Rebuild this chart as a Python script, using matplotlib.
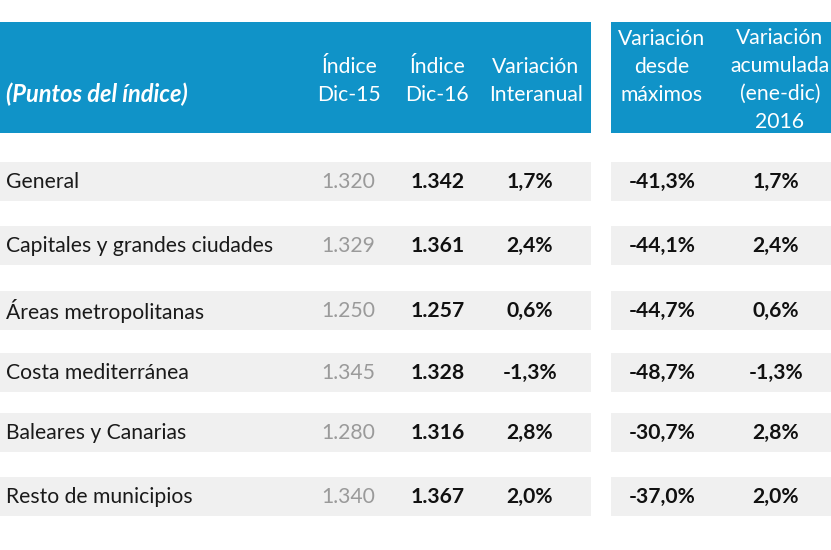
import matplotlib

matplotlib.use("Agg")
import matplotlib.pyplot as plt
from matplotlib.patches import Rectangle

# data
regions = [
    "General",
    "Capitales y grandes ciudades",
    "Áreas metropolitanas",
    "Costa mediterránea",
    "Baleares y Canarias",
    "Resto de municipios",
]
indice_dic15 = ["1.320", "1.329", "1.250", "1.345", "1.280", "1.340"]
indice_dic16 = ["1.342", "1.361", "1.257", "1.328", "1.316", "1.367"]
var_interanual = ["1,7%", "2,4%", "0,6%", "-1,3%", "2,8%", "2,0%"]
var_maximos = ["-41,3%", "-44,1%", "-44,7%", "-48,7%", "-30,7%", "-37,0%"]
var_acumulada = ["1,7%", "2,4%", "0,6%", "-1,3%", "2,8%", "2,0%"]

BLUE = "#1093c8"
BAND = "#f0f0f0"
FONT = "Lato"


def main() -> None:
    fig = plt.figure(figsize=(8.31, 5.5), dpi=100)
    ax = fig.add_axes([0, 0, 1, 1])
    ax.set_xlim(0, 831)
    ax.set_ylim(550, 0)
    ax.axis("off")

    # header boxes
    ax.add_patch(Rectangle((0, 22), 591, 111, color=BLUE, lw=0))
    ax.add_patch(Rectangle((611, 22), 220, 111, color=BLUE, lw=0))

    hkw = dict(color="white", family=FONT, va="center", linespacing=1.5)
    ax.text(6, 94, "(Puntos del índice)", fontweight="bold", style="italic",
            ha="left", fontsize=17, **hkw)
    ax.text(349, 81, "Índice\nDic-15", ha="center", fontsize=15.2, **hkw)
    ax.text(437, 81, "Índice\nDic-16", ha="center", fontsize=15.2, **hkw)
    ax.text(536, 81, "Variación\nInteranual", ha="center", fontsize=15.2, **hkw)
    ax.text(662, 67, "Variación\ndesde\nmáximos", ha="center", fontsize=15.2,
            **hkw)
    ax.text(780, 80, "Variación\nacumulada\n(ene-dic)\n2016", ha="center",
            fontsize=15.2, **hkw)

    row_y = [182, 246, 311, 373, 433, 497]
    for i, name in enumerate(regions):
        y = row_y[i]
        ax.add_patch(Rectangle((0, y - 20), 591, 39, color=BAND, lw=0))
        ax.add_patch(Rectangle((611, y - 20), 220, 39, color=BAND, lw=0))
        kw = dict(fontsize=15.2, family=FONT, va="center")
        ax.text(6, y, name, ha="left", color="#1a1a1a", **kw)
        ax.text(375, y, indice_dic15[i], ha="right", color="#9a9a9a", **kw)
        ax.text(465, y, indice_dic16[i], ha="right", color="#111111",
                fontweight="bold", **kw)
        ax.text(530, y, var_interanual[i], ha="center", color="#111111",
                fontweight="bold", **kw)
        ax.text(662, y, var_maximos[i], ha="center", color="#111111",
                fontweight="bold", **kw)
        ax.text(776, y, var_acumulada[i], ha="center", color="#111111",
                fontweight="bold", **kw)

    fig.savefig("out.png", dpi=100)
    plt.close(fig)


if __name__ == "__main__":
    main()
